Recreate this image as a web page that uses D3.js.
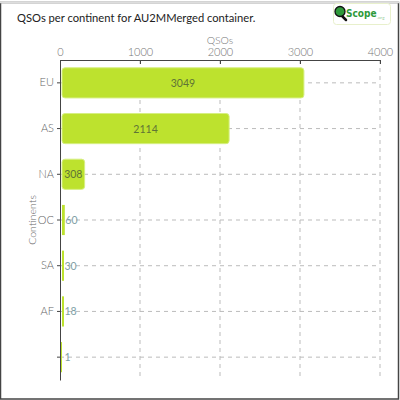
<!DOCTYPE html>
<html><head><meta charset="utf-8">
<script src="https://cdn.jsdelivr.net/npm/d3@7"></script>
<style>
html,body{margin:0;padding:0;background:#fff;}
svg{display:block;}
text{font-family:Lato,"Open Sans",sans-serif;font-weight:300;}
</style></head>
<body>
<script>
const categories = ["EU","AS","NA","OC","SA","AF",""];
const values = [3049,2114,308,60,30,18,1];
const xTicks = [0,1000,2000,3000,4000];
const title = "QSOs per continent for AU2MMerged container.";
const xTitle = "QSOs";
const yTitle = "Continents";

const W = 400, H = 400;
const svg = d3.select("body").append("svg").attr("width", W).attr("height", H);

// frame
svg.append("rect").attr("x",0.5).attr("y",2.5).attr("width",398).attr("height",396.5)
  .attr("fill","#fff").attr("stroke","#444").attr("stroke-width",1.5);
svg.append("line").attr("x1",0).attr("x2",400).attr("y1",2.5).attr("y2",2.5)
  .attr("stroke","#ddd").attr("stroke-width",1.5);

// title
svg.append("text").attr("x",17).attr("y",22).attr("font-size",11.2).attr("fill","#222")
  .attr("style","font-weight:400").text(title);

// logo
const logo = svg.append("g").attr("transform","translate(333,3)");
logo.append("rect").attr("x",0.5).attr("y",0.5).attr("width",57).attr("height",21).attr("rx",3)
  .attr("fill","#fff").attr("stroke","#e8f0cc");
logo.append("line").attr("x1",7).attr("y1",11).attr("x2",13).attr("y2",17)
  .attr("stroke","#111").attr("stroke-width",2.5).attr("stroke-linecap","round");
logo.append("circle").attr("cx",7).attr("cy",8.5).attr("r",5).attr("fill","#2e9a3a").attr("stroke","#111").attr("stroke-width",1.3);
logo.append("text").attr("x",13).attr("y",14).attr("font-size",10)
  .attr("fill","#2e9a3a").attr("style","font-weight:700;font-family:'DejaVu Sans Condensed',sans-serif").text("Scope");
logo.append("text").attr("x",44).attr("y",16).attr("font-size",4.5)
  .attr("fill","#9c9").attr("style","font-weight:400").text(".org");

const m = {left:60, right:380, top:60, bottom:380};
const x = d3.scaleLinear().domain([0,4000]).range([m.left, m.right]);
const y = d3.scaleBand().domain(categories.map((c,i)=>i)).range([m.top, m.bottom]).paddingInner(0.34).paddingOuter(0.17);

// grid
const g = svg.append("g");
g.selectAll(".vg").data(xTicks.slice(1)).join("line")
  .attr("x1",d=>x(d)).attr("x2",d=>x(d)).attr("y1",m.top).attr("y2",m.bottom)
  .attr("stroke","#bbb").attr("stroke-dasharray","4,4");
g.selectAll(".hg").data(categories.map((c,i)=>i)).join("line")
  .attr("x1",m.left).attr("x2",m.right).attr("y1",d=>y(d)+y.bandwidth()/2).attr("y2",d=>y(d)+y.bandwidth()/2)
  .attr("stroke","#bbb").attr("stroke-dasharray","4,4");

// bars
const bw = d => x(d)-x(0)-2;
const bars = svg.append("g");
bars.selectAll("rect").data(values).join("rect")
  .attr("x", (d,i)=> i===6 ? x(0) : x(0)+2)
  .attr("y", (d,i)=>y(i))
  .attr("width", d=>Math.max(2, bw(d)))
  .attr("height", y.bandwidth())
  .attr("rx", d=> bw(d)>10 ? 3 : 0)
  .attr("fill","#bde22e")
  .attr("stroke",d=> bw(d)>10 ? "#d6ef82" : "none").attr("stroke-width",1);

// value labels
svg.append("g").selectAll("text").data(values).join("text")
  .attr("font-size",10.5)
  .attr("y",(d,i)=>y(i)+y.bandwidth()/2+4)
  .attr("x",(d,i)=>{
    const w = Math.max(2, bw(d));
    if (w > 18) return x(0)+2+w/2;
    return x(0)+2+w+0.5;
  })
  .attr("text-anchor",d=> bw(d)>18 ? "middle":"start")
  .attr("fill",d=> bw(d)>18 ? "#5f7436" : "#7f9fa6")
  .attr("style","font-weight:400")
  .text(d=>d);

// axes
const xAxis = d3.axisTop(x).tickValues(xTicks).tickSizeInner(-4).tickSizeOuter(0).tickPadding(4).tickFormat(d3.format("d"));
const xg = svg.append("g").attr("transform",`translate(0,${m.top})`).call(xAxis);
xg.select(".domain").attr("stroke","#444");
xg.selectAll(".tick line").attr("stroke","#444");
xg.selectAll(".tick text").attr("font-size",11).attr("fill","#777").attr("font-family","Lato,sans-serif");

const yAxis = d3.axisLeft(y).tickFormat(i=>categories[i]).tickSize(3).tickSizeOuter(0);
const yg = svg.append("g").attr("transform",`translate(${m.left},0)`).call(yAxis);
yg.select(".domain").attr("stroke","#444");
yg.selectAll(".tick line").attr("stroke","#444");
yg.selectAll(".tick text").attr("font-size",11).attr("fill","#666").attr("font-family","Lato,sans-serif");

svg.append("text").attr("x",(m.left+m.right)/2).attr("y",44).attr("text-anchor","middle")
  .attr("font-size",10.5).attr("fill","#777").text(xTitle);
svg.append("text").attr("transform",`translate(36,${(m.top+m.bottom)/2}) rotate(-90)`)
  .attr("text-anchor","middle").attr("font-size",10.5).attr("fill","#666").text(yTitle);
</script>
</body></html>
